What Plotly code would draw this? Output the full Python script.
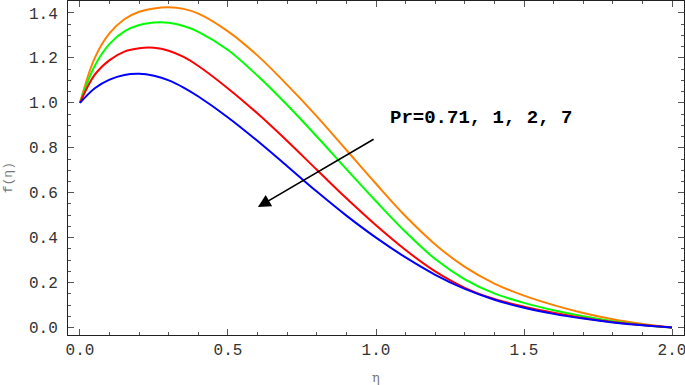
import plotly.graph_objects as go

eta = [0.0, 0.05, 0.1, 0.15, 0.2, 0.25, 0.3, 0.35, 0.4, 0.5, 0.6, 0.7, 0.8, 0.9,
       1.0, 1.1, 1.2, 1.3, 1.4, 1.5, 1.6, 1.7, 1.8, 1.9, 2.0]

f_pr071 = [1.0, 1.2, 1.31, 1.372, 1.405, 1.42, 1.425, 1.418, 1.397, 1.318, 1.21, 1.08, 0.94,
           0.79, 0.64, 0.495, 0.37, 0.27, 0.196, 0.142, 0.1, 0.065, 0.037, 0.016, 0.0]
f_pr1 = [1.0, 1.165, 1.262, 1.318, 1.346, 1.357, 1.356, 1.342, 1.316, 1.235, 1.12, 0.99, 0.85,
         0.705, 0.562, 0.425, 0.305, 0.215, 0.152, 0.11, 0.077, 0.05, 0.028, 0.012, 0.0]
f_pr2 = [1.0, 1.125, 1.19, 1.228, 1.243, 1.245, 1.232, 1.204, 1.164, 1.064, 0.952, 0.83, 0.702,
         0.575, 0.455, 0.345, 0.25, 0.177, 0.127, 0.093, 0.066, 0.043, 0.025, 0.011, 0.0]
f_pr7 = [1.0, 1.065, 1.103, 1.124, 1.129, 1.12, 1.1, 1.068, 1.028, 0.935, 0.83, 0.718, 0.605,
         0.498, 0.4, 0.312, 0.235, 0.172, 0.124, 0.088, 0.061, 0.04, 0.023, 0.01, 0.0]

series = [
    ("Pr=0.71", f_pr071, "#FF8000"),
    ("Pr=1", f_pr1, "#00FF00"),
    ("Pr=2", f_pr2, "#FF0000"),
    ("Pr=7", f_pr7, "#0000FF"),
]

x_ticks = [0.0, 0.5, 1.0, 1.5, 2.0]
y_ticks = [0.0, 0.2, 0.4, 0.6, 0.8, 1.0, 1.2, 1.4]

fig = go.Figure()
for name, vals, col in series:
    fig.add_trace(go.Scatter(x=eta, y=vals, mode="lines", name=name,
                             line=dict(color=col, width=2, shape="spline", smoothing=1.0)))

tickfont = dict(family="Liberation Mono, Courier New, monospace", size=16, color="#333333")
common = dict(showline=True, linecolor="#222222", linewidth=1, mirror="allticks",
              ticks="inside", tickcolor="#555555", showgrid=False, zeroline=False,
              tickfont=tickfont, automargin=False, ticklabeloverflow="allow")

fig.update_xaxes(range=[-0.0405, 2.0405], tickvals=x_ticks,
                 ticktext=[f"{v:.1f}" for v in x_ticks], ticklen=6,
                 minor=dict(dtick=0.1, ticks="inside", ticklen=3, tickcolor="#555555", showgrid=False),
                 **common)
fig.update_yaxes(range=[-0.033, 1.453], tickvals=y_ticks,
                 ticktext=[f"{v:.1f}" for v in y_ticks], ticklen=6,
                 minor=dict(dtick=0.05, ticks="inside", ticklen=3, tickcolor="#555555", showgrid=False),
                 ticklabelstandoff=6,
                 **common)

fig.add_annotation(x=0.601, y=0.536, ax=0.997, ay=0.842, xref="x", yref="y",
                   axref="x", ayref="y", showarrow=True, arrowhead=2, arrowsize=1.6,
                   arrowwidth=1.6, arrowcolor="black", text="")
fig.add_annotation(x=0.519, y=0.65, xref="paper", yref="paper", xanchor="left",
                   yanchor="middle", showarrow=False, text="<b>Pr=0.71, 1, 2, 7</b>",
                   font=dict(family="Liberation Mono, Courier New, monospace", size=19, color="black"))
fig.add_annotation(x=1.0, y=-0.126, xref="x", yref="paper", showarrow=False, text="η",
                   xanchor="center", yanchor="middle",
                   font=dict(family="DejaVu Serif, serif", size=13, color="#777777"))
fig.add_annotation(x=-0.097, y=0.47, xref="paper", yref="paper", showarrow=False, text="f(η)",
                   textangle=-90, xanchor="center", yanchor="middle",
                   font=dict(family="Liberation Mono, monospace", size=13, color="#777777"))

fig.update_layout(width=685, height=385, margin=dict(l=68, r=1, t=1, b=50),
                  paper_bgcolor="white", plot_bgcolor="white", showlegend=False)

fig.write_html("out.html", config={"displayModeBar": False},
               post_script="document.body.style.margin='0';document.body.style.padding='0';"
                           "document.documentElement.style.overflow='hidden';")
